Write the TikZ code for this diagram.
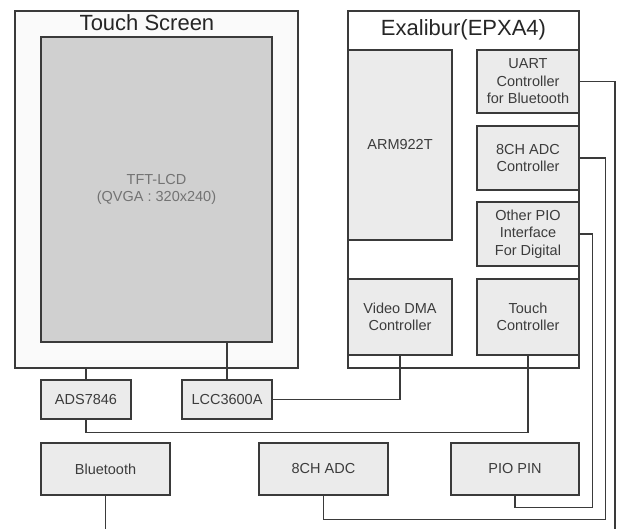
\documentclass[tikz,border=0pt]{standalone}
\usepackage{fontspec}
\setmainfont{Liberation Sans}
\usepackage{tikz}

\definecolor{edgegray}{HTML}{3A3A3A}
\definecolor{boxgray}{HTML}{EBEBEB}
\definecolor{lcdgray}{HTML}{D0D0D0}
\definecolor{textgray}{HTML}{3C3C3C}

\tikzset{
  blk/.style={draw=edgegray,line width=1.2pt,fill=boxgray,inner sep=0pt,
    align=center,text=textgray,font=\fontsize{14.5}{17.5}\selectfont},
  ttl/.style={inner sep=0pt,text=black!85,font=\fontsize{22}{26}\selectfont},
  wire/.style={draw=edgegray,line width=1.2pt}
}

\begin{document}
\begin{tikzpicture}[x=1pt,y=-1pt]
  \useasboundingbox (0,0) rectangle (619,529);

  \node [blk,fill=black!2,minimum width=283pt,minimum height=357pt] (ts) at (156.5,189.5) {};
  \node [ttl] (tsname) at (147,23) {Touch Screen};
  \node [blk,fill=lcdgray,text=black!55,minimum width=231pt,minimum height=305pt] (tft) at (156.5,189.5) {TFT-LCD\\(QVGA : 320x240)};

  \node [blk,fill=white,minimum width=231pt,minimum height=357pt] (epxa) at (463.5,189.5) {};
  \node [ttl] (epxaname) at (463.5,30) {Exalibur(EPXA4)};
  \node [blk,minimum width=104pt,minimum height=190pt] (arm) at (400,145) {ARM922T};
  \node [blk,minimum width=102pt,minimum height=63pt] (uart) at (528,81.5) {UART\\Controller\\for Bluetooth};
  \node [blk,minimum width=102pt,minimum height=64pt] (adcctrl) at (528,158) {8CH ADC\\Controller};
  \node [blk,minimum width=102pt,minimum height=64pt] (opio) at (528,234) {Other PIO\\Interface\\For Digital};
  \node [blk,minimum width=104pt,minimum height=76pt] (vdma) at (400,317) {Video DMA\\Controller};
  \node [blk,minimum width=102pt,minimum height=76pt] (tctrl) at (528,317) {Touch\\Controller};

  \node [blk,minimum width=90pt,minimum height=39pt] (ads) at (86,399.5) {ADS7846};
  \node [blk,minimum width=90pt,minimum height=39pt] (lcc) at (227,399.5) {LCC3600A};

  \node [blk,minimum width=129pt,minimum height=52pt] (bt) at (105.5,469) {Bluetooth};
  \node [blk,minimum width=129pt,minimum height=52pt] (adc) at (323.5,469) {8CH ADC};
  \node [blk,minimum width=128pt,minimum height=52pt] (pio) at (515,469) {PIO PIN};

  \coordinate (btend) at (105.5,529);
  \coordinate (uartend) at (615,529);

  \draw [wire] (ads.north) -- (ads.north |- ts.south);
  \draw [wire] (lcc.north) -- (lcc.north |- tft.south);
  \draw [wire] (lcc.east) -| (vdma.south);
  \draw [wire] (ads.south) -- ++(0,13) -| (tctrl.south);
  \draw [wire] (adc.south) -- ++(0,24) -| ([xshift=26pt]adcctrl.east) -- (adcctrl.east);
  \draw [wire] (pio.south) -- ++(0,12) -| ([xshift=13pt]opio.east) -- (opio.east);
  \draw [wire] (uart.east) -| (uartend);
  \draw [wire] (bt.south) -- (btend);
\end{tikzpicture}
\end{document}
